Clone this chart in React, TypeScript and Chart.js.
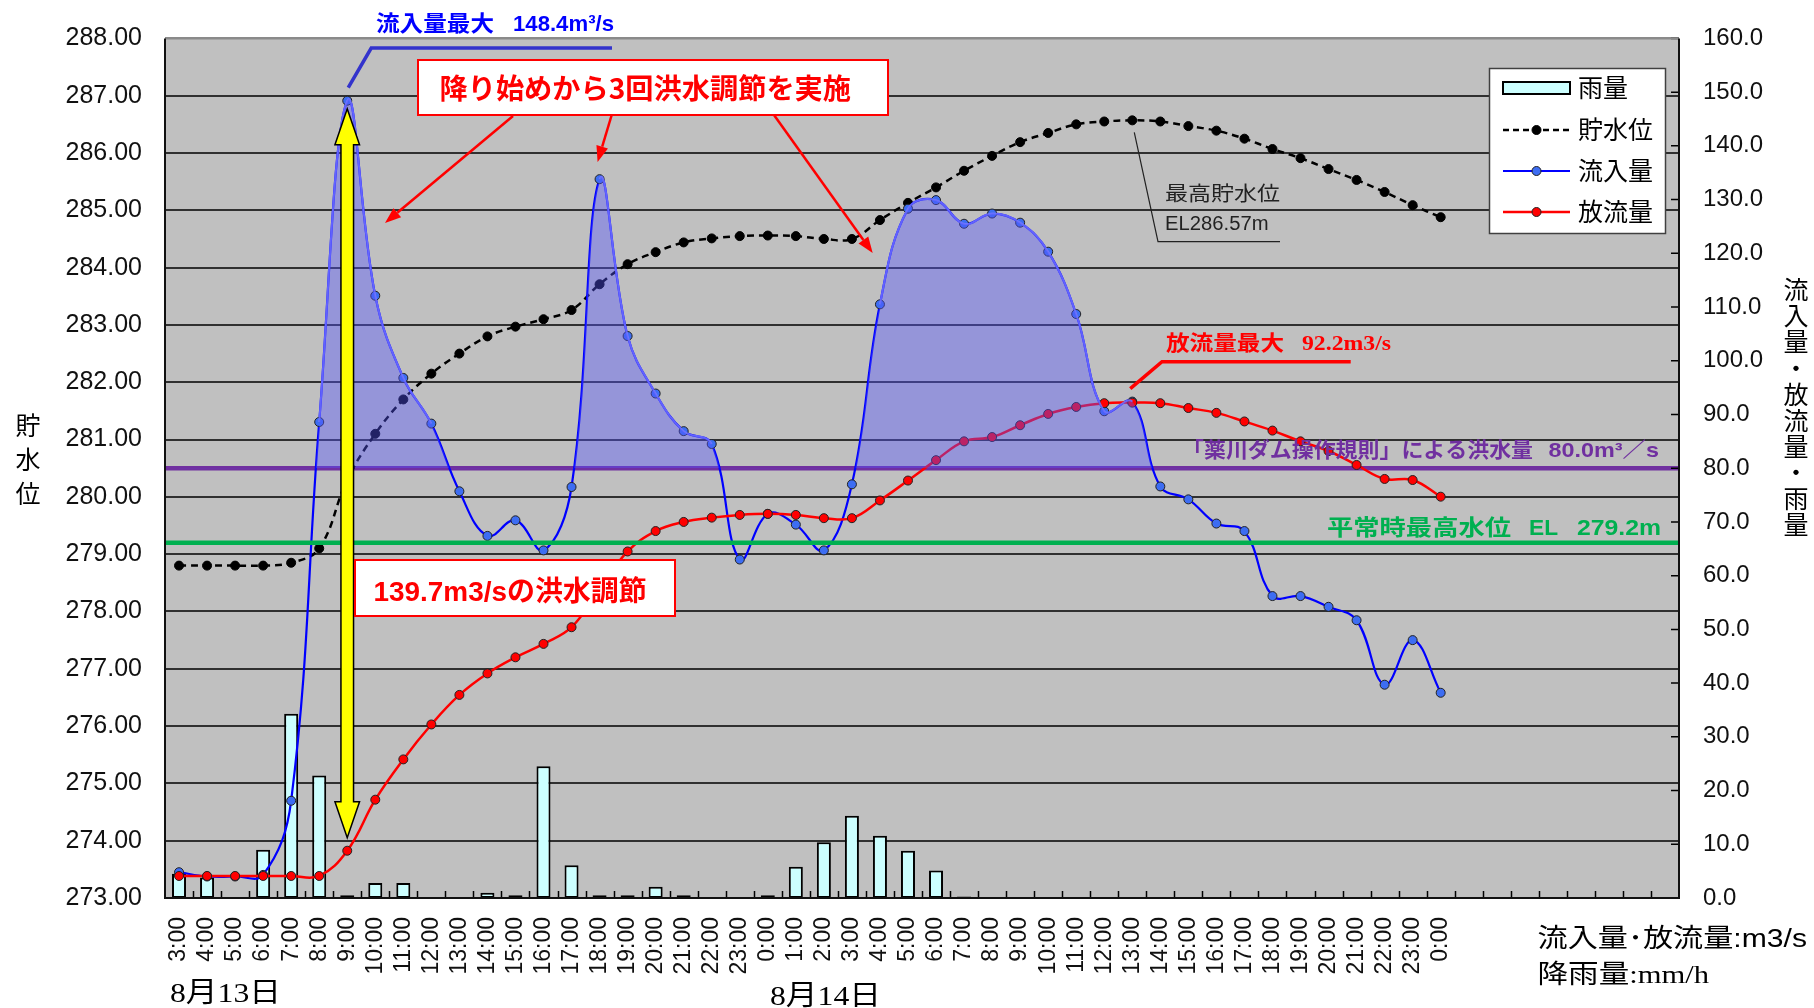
import { useEffect, useRef } from 'react';
import { Chart, registerables } from 'chart.js';

Chart.register(...registerables);

// ---------- data ----------
const categories = [
  '3:00', '4:00', '5:00', '6:00', '7:00', '8:00', '9:00', '10:00', '11:00', '12:00', '13:00', '14:00', '15:00', '16:00', '17:00', '18:00', '19:00', '20:00', '21:00', '22:00', '23:00',
  '0:00', '1:00', '2:00', '3:00', '4:00', '5:00', '6:00', '7:00', '8:00', '9:00', '10:00', '11:00', '12:00', '13:00', '14:00', '15:00', '16:00', '17:00', '18:00', '19:00', '20:00', '21:00', '22:00', '23:00',
  '0:00', '', '', '', '', '', '', '', '',
];

// 雨量 (mm/h)
const rainfall = [
  4.5, 3.8, 0, 9.0, 34.3, 22.8, 0.5, 2.8, 2.8, 0, 0, 1.0, 0.5, 24.5, 6.1, 0.5, 0.5, 2.1, 0.5, 0, 0,
  0.5, 5.8, 10.4, 15.3, 11.6, 8.8, 5.1, 0.3, 0, 0, 0, 0, 0, 0, 0, 0, 0, 0, 0, 0, 0, 0, 0, 0,
  0,
];

// 貯水位 (EL m)
const storageLevel = [
  278.8, 278.8, 278.8, 278.8, 278.85, 279.1, 280.3, 281.1, 281.7, 282.15, 282.5, 282.8, 282.97, 283.1, 283.26, 283.71, 284.06, 284.27, 284.44, 284.51, 284.55,
  284.56, 284.55, 284.5, 284.5, 284.83, 285.13, 285.4, 285.69, 285.95, 286.19, 286.35, 286.5, 286.55, 286.57, 286.55, 286.47, 286.39, 286.25, 286.07, 285.91, 285.72, 285.53, 285.32, 285.09,
  284.88,
];

// 流入量 (m3/s)
const inflow = [
  4.8, 4.0, 4.0, 4.3, 18.1, 88.6, 148.4, 112.1, 96.8, 88.3, 75.7, 67.4, 70.3, 64.7, 76.5, 133.8, 104.6, 93.9, 86.9, 84.5, 63.0,
  71.5, 69.5, 64.7, 77.0, 110.5, 128.3, 129.9, 125.5, 127.4, 125.7, 120.3, 108.7, 90.6, 92.4, 76.6, 74.2, 69.7, 68.3, 56.2, 56.2, 54.2, 51.7, 39.7, 48.0,
  38.2,
];

// 放流量 (m3/s)
const outflow = [
  4.1, 4.1, 4.1, 4.1, 4.1, 4.1, 8.8, 18.3, 25.8, 32.3, 37.8, 41.8, 44.8, 47.3, 50.4, 57.5, 64.5, 68.3, 70.0, 70.8, 71.3,
  71.5, 71.3, 70.7, 70.7, 74.0, 77.7, 81.5, 85.0, 85.8, 88.0, 90.1, 91.4, 92.1, 92.2, 92.1, 91.2, 90.3, 88.7, 87.0, 85.0, 83.2, 80.6, 78.0, 77.8,
  74.7,
];

const floodFlow = 80.0;         // 洪水量
const normalHighWater = 279.2;  // 平常時最高水位
const maxStorage = 286.57;      // 最高貯水位
const maxStorageIndex = 34;
const maxOutflow = 92.2;
const maxOutflowIndex = 34;

const leftTicks = { min: 273, max: 288, step: 1 };
const rightTicks = { min: 0, max: 160, step: 10 };

// ---------- styles ----------
const JP = "'Noto Sans CJK JP', sans-serif";
const SANS_JP = "'Liberation Sans', 'Noto Sans CJK JP', sans-serif";
const SERIF_JP = "'Liberation Serif', 'Noto Sans CJK JP', serif";

const COLORS = {
  plotBg: '#c0c0c0',
  grid: '#303030',
  rainFill: '#ccffff',
  storage: '#000000',
  inflow: '#0000ff',
  inflowPoint: '#3d6df2',
  outflow: '#ff0000',
  purple: '#7030a0',
  green: '#00b050',
  fill: 'rgba(85,85,255,0.40)',
  fillEdge: 'rgba(120,120,255,0.85)',
};

// ---------- helpers ----------
function fitText(ctx: CanvasRenderingContext2D, text: string, x1: number, x2: number, cy: number, size: number, family: string, color: string, weight = 'normal') {
  ctx.save();
  ctx.font = `${weight} ${size}px ${family}`;
  ctx.fillStyle = color;
  ctx.textAlign = 'left';
  ctx.textBaseline = 'alphabetic';
  const w = ctx.measureText(text).width;
  const sx = (x2 - x1) / w;
  ctx.translate(x1, cy + size * 0.37);
  ctx.scale(sx, 1);
  ctx.fillText(text, 0, 0);
  ctx.restore();
}

function centerChar(ctx: CanvasRenderingContext2D, ch: string, cx: number, cy: number, size: number, family: string, color: string) {
  ctx.save();
  ctx.font = `${size}px ${family}`;
  ctx.fillStyle = color;
  ctx.textAlign = 'center';
  ctx.textBaseline = 'alphabetic';
  ctx.fillText(ch, cx, cy + size * 0.37);
  ctx.restore();
}

function arrow(ctx: CanvasRenderingContext2D, x1: number, y1: number, x2: number, y2: number, color: string, lw: number, headLen: number, headW: number) {
  const ang = Math.atan2(y2 - y1, x2 - x1);
  const bx = x2 - headLen * Math.cos(ang);
  const by = y2 - headLen * Math.sin(ang);
  ctx.save();
  ctx.strokeStyle = color;
  ctx.lineWidth = lw;
  ctx.beginPath();
  ctx.moveTo(x1, y1);
  ctx.lineTo(bx, by);
  ctx.stroke();
  ctx.fillStyle = color;
  ctx.beginPath();
  ctx.moveTo(x2, y2);
  ctx.lineTo(bx + headW * Math.sin(ang), by - headW * Math.cos(ang));
  ctx.lineTo(bx - headW * Math.sin(ang), by + headW * Math.cos(ang));
  ctx.closePath();
  ctx.fill();
  ctx.restore();
}

function polyline(ctx: CanvasRenderingContext2D, pts: number[][], color: string, lw: number) {
  ctx.save();
  ctx.strokeStyle = color;
  ctx.lineWidth = lw;
  ctx.lineJoin = 'miter';
  ctx.beginPath();
  pts.forEach((p, i) => (i === 0 ? ctx.moveTo(p[0], p[1]) : ctx.lineTo(p[0], p[1])));
  ctx.stroke();
  ctx.restore();
}

function box(ctx: CanvasRenderingContext2D, x: number, y: number, w: number, h: number, stroke: string, lw: number) {
  ctx.save();
  ctx.fillStyle = '#ffffff';
  ctx.fillRect(x, y, w, h);
  ctx.strokeStyle = stroke;
  ctx.lineWidth = lw;
  ctx.strokeRect(x, y, w, h);
  ctx.restore();
}

// ---------- plugin ----------
const decorPlugin = {
  id: 'decor',
  beforeDraw(chart: any) {
    const { ctx, chartArea: a } = chart;
    ctx.save();
    ctx.fillStyle = '#ffffff';
    ctx.fillRect(0, 0, chart.width, chart.height);
    ctx.fillStyle = COLORS.plotBg;
    ctx.fillRect(a.left, a.top, a.right - a.left, a.bottom - a.top);
    ctx.restore();
  },
  beforeDatasetsDraw(chart: any) {
    const { ctx, chartArea: a } = chart;
    const yR = chart.scales.y1;
    const y = yR.getPixelForValue(floodFlow);
    ctx.save();
    ctx.strokeStyle = COLORS.purple;
    ctx.lineWidth = 4.5;
    ctx.beginPath();
    ctx.moveTo(a.left, y);
    ctx.lineTo(a.right, y);
    ctx.stroke();
    ctx.restore();
  },
  afterDatasetsDraw(chart: any) {
    const { ctx, chartArea: a } = chart;
    const xs = chart.scales.x;
    const yL = chart.scales.y;
    const yR = chart.scales.y1;
    const X = (i: number) => xs.getPixelForValue(i);

    // green normal-high-water line
    const gy = yL.getPixelForValue(normalHighWater);
    ctx.save();
    ctx.strokeStyle = COLORS.green;
    ctx.lineWidth = 4.5;
    ctx.beginPath();
    ctx.moveTo(a.left, gy);
    ctx.lineTo(a.right, gy);
    ctx.stroke();
    ctx.restore();

    // inward tick marks
    ctx.save();
    ctx.strokeStyle = '#000';
    ctx.lineWidth = 1.5;
    ctx.beginPath();
    for (let i = 1; i < categories.length; i++) {
      const bx = Math.round((X(i - 1) + X(i)) / 2) + 0.5;
      ctx.moveTo(bx, a.bottom);
      ctx.lineTo(bx, a.bottom - 7);
    }
    for (let v = rightTicks.min; v <= rightTicks.max; v += rightTicks.step) {
      const ty = yR.getPixelForValue(v);
      ctx.moveTo(a.right, ty);
      ctx.lineTo(a.right - 8, ty);
    }
    ctx.stroke();
    ctx.restore();

    // plot border
    ctx.save();
    ctx.lineWidth = 2;
    ctx.strokeStyle = '#8a8a8a';
    ctx.beginPath();
    ctx.moveTo(a.left, a.top);
    ctx.lineTo(a.right, a.top);
    ctx.stroke();
    ctx.strokeStyle = '#111';
    ctx.beginPath();
    ctx.moveTo(a.left, a.top);
    ctx.lineTo(a.left, a.bottom);
    ctx.lineTo(a.right, a.bottom);
    ctx.lineTo(a.right, a.top);
    ctx.stroke();
    ctx.restore();

    // ---- 流入量最大 annotation ----
    const peakIdx = inflow.indexOf(Math.max(...inflow));
    const pcx = X(peakIdx);
    const peakY = yR.getPixelForValue(inflow[peakIdx]);
    polyline(ctx, [[pcx + 1, peakY - 13], [pcx + 24, 48], [612, 48]], '#3333cc', 3.5);
    fitText(ctx, '流入量最大', 376, 494, 23, 22, JP, '#0000ff', 'bold');
    fitText(ctx, '148.4m³/s', 513, 614, 23, 22, SANS_JP, '#0000ff', 'bold');

    // ---- yellow double arrow (flood control amount) ----
    const top = peakY + 8;
    const bot = yR.getPixelForValue(outflow[peakIdx]) - 13;
    const hw = 12.3, sw = 6.3, hl = 36;
    ctx.save();
    ctx.fillStyle = '#ffff00';
    ctx.strokeStyle = '#000';
    ctx.lineWidth = 1.5;
    ctx.beginPath();
    ctx.moveTo(pcx, top);
    ctx.lineTo(pcx + hw, top + hl);
    ctx.lineTo(pcx + sw, top + hl);
    ctx.lineTo(pcx + sw, bot - hl);
    ctx.lineTo(pcx + hw, bot - hl);
    ctx.lineTo(pcx, bot);
    ctx.lineTo(pcx - hw, bot - hl);
    ctx.lineTo(pcx - sw, bot - hl);
    ctx.lineTo(pcx - sw, top + hl);
    ctx.lineTo(pcx - hw, top + hl);
    ctx.closePath();
    ctx.fill();
    ctx.stroke();
    ctx.restore();

    // ---- red callout: 降り始めから3回洪水調節を実施 ----
    arrow(ctx, 513, 116, 385, 223, '#ff0000', 2.5, 16, 6);
    arrow(ctx, 612.6, 112, 597.6, 162, '#ff0000', 2.5, 16, 6);
    arrow(ctx, 774, 115, 872.7, 253, '#ff0000', 2.5, 16, 6);
    box(ctx, 418, 60, 470, 55, '#ff0000', 2);
    fitText(ctx, '降り始めから3回洪水調節を実施', 439.5, 851, 89, 28, JP, '#ff0000', 'bold');

    // ---- red box: 139.7m3/sの洪水調節 ----
    box(ctx, 355, 560, 320, 56, '#ff0000', 2);
    fitText(ctx, '139.7m3/sの洪水調節', 373.5, 646.6, 590.5, 28, SANS_JP, '#ff0000', 'bold');

    // ---- 放流量最大 ----
    const oy = yR.getPixelForValue(maxOutflow);
    polyline(ctx, [[X(maxOutflowIndex) - 2, oy - 14], [1162, 361.7], [1350.7, 361.7]], '#ff0000', 3.5);
    fitText(ctx, '放流量最大', 1166, 1284, 342.5, 21, JP, '#ff0000', 'bold');
    fitText(ctx, '92.2m3/s', 1302, 1391, 342.5, 21, SERIF_JP, '#ff0000', 'bold');

    // ---- purple rule text ----
    fitText(ctx, '「薬川ダム操作規則」による洪水量', 1182, 1533, 449, 21, JP, COLORS.purple, 'bold');
    fitText(ctx, '80.0m³／s', 1548.5, 1659, 449, 21, SANS_JP, COLORS.purple, 'bold');

    // ---- green text ----
    fitText(ctx, '平常時最高水位', 1327, 1511, 527, 22, JP, COLORS.green, 'bold');
    fitText(ctx, 'EL', 1529, 1558, 527, 22, SANS_JP, COLORS.green, 'bold');
    fitText(ctx, '279.2m', 1577, 1661, 527, 22, SANS_JP, COLORS.green, 'bold');

    // ---- 最高貯水位 ----
    const sy = yL.getPixelForValue(maxStorage);
    polyline(ctx, [[X(maxStorageIndex) + 2, sy + 12], [1158, 241.7], [1280, 241.7]], '#222', 1.2);
    fitText(ctx, '最高貯水位', 1165, 1280, 194, 20, JP, '#222');
    fitText(ctx, 'EL286.57m', 1165, 1268.5, 222.5, 20, SANS_JP, '#222');
  },
  afterDraw(chart: any) {
    const { ctx } = chart;
    // ---- legend ----
    const lx = 1489.5, ly = 68.5, lw = 176, lh = 165;
    ctx.save();
    ctx.fillStyle = '#fff';
    ctx.fillRect(lx, ly, lw, lh);
    ctx.strokeStyle = '#404040';
    ctx.lineWidth = 1.5;
    ctx.strokeRect(lx, ly, lw, lh);
    ctx.restore();
    const sx1 = 1503, sx2 = 1570, scx = (sx1 + sx2) / 2, tx = 1578;
    const rows = [88, 130, 171, 212];
    const ds = chart.data.datasets;
    // 雨量
    ctx.save();
    ctx.fillStyle = COLORS.rainFill;
    ctx.fillRect(sx1, rows[0] - 6, sx2 - sx1, 12);
    ctx.strokeStyle = '#000';
    ctx.lineWidth = 2;
    ctx.strokeRect(sx1, rows[0] - 6, sx2 - sx1, 12);
    ctx.restore();
    const lineItem = (row: number, d: any, dash: number[]) => {
      ctx.save();
      ctx.strokeStyle = d.borderColor;
      ctx.lineWidth = d.borderWidth;
      ctx.setLineDash(dash);
      ctx.beginPath();
      ctx.moveTo(sx1, row);
      ctx.lineTo(sx2, row);
      ctx.stroke();
      ctx.setLineDash([]);
      ctx.fillStyle = d.pointBackgroundColor;
      ctx.strokeStyle = d.pointBorderColor;
      ctx.lineWidth = 1;
      ctx.beginPath();
      ctx.arc(scx, row, 4.5, 0, Math.PI * 2);
      ctx.fill();
      ctx.stroke();
      ctx.restore();
    };
    lineItem(rows[1], ds[4], [6, 4]);
    lineItem(rows[2], ds[3], []);
    lineItem(rows[3], ds[2], []);
    const labels = ['雨量', '貯水位', '流入量', '放流量'];
    labels.forEach((t, i) => {
      ctx.save();
      ctx.font = `25px ${JP}`;
      ctx.fillStyle = '#000';
      ctx.textBaseline = 'alphabetic';
      ctx.fillText(t, tx, rows[i] + 25 * 0.37);
      ctx.restore();
    });

    // ---- axis titles ----
    ['貯', '水', '位'].forEach((c, i) => centerChar(ctx, c, 28, 426 + i * 34, 25, JP, '#000'));
    Array.from('流入量・放流量・雨量').forEach((c, i) => centerChar(ctx, c, 1796, 290 + i * 26.1, 25, JP, '#000'));

    // ---- units ----
    fitText(ctx, '流入量･放流量:m3/s', 1537.5, 1807, 937, 26, SANS_JP, '#000');
    fitText(ctx, '降雨量:mm/h', 1537.5, 1709, 973, 26, SERIF_JP, '#000');

    // ---- dates ----
    fitText(ctx, '8月13日', 170, 281, 992, 28, SERIF_JP, '#000');
    fitText(ctx, '8月14日', 770, 881, 995, 28, SERIF_JP, '#000');
  },
};

export default function App() {
  const ref = useRef<HTMLCanvasElement | null>(null);

  useEffect(() => {
    if (!ref.current) return;
    const chart = new Chart(ref.current, {
      type: 'bar',
      data: {
        labels: categories,
        datasets: [
          {
            // shaded flood-control volume (inflow above 80 m3/s)
            type: 'line',
            label: 'fill',
            data: inflow,
            yAxisID: 'y1',
            borderColor: 'transparent',
            borderWidth: 0,
            pointRadius: 0,
            tension: 0.4,
            fill: { target: { value: floodFlow }, above: COLORS.fill, below: 'transparent' },
            order: 0,
          } as any,
          {
            // light edge of the shaded area
            type: 'line',
            label: 'edge',
            data: inflow,
            yAxisID: 'y1',
            borderColor: 'transparent',
            borderWidth: 2,
            segment: {
              borderColor: (c: any) => (c.p0.parsed.y >= floodFlow && c.p1.parsed.y >= floodFlow ? COLORS.fillEdge : 'transparent'),
            },
            pointRadius: 0,
            tension: 0.4,
            fill: false,
            order: 0,
          } as any,
          {
            type: 'line',
            label: '放流量',
            data: outflow,
            yAxisID: 'y1',
            borderColor: COLORS.outflow,
            borderWidth: 2.5,
            pointBackgroundColor: COLORS.outflow,
            pointBorderColor: '#222',
            pointBorderWidth: 1,
            pointRadius: 4.5,
            tension: 0.4,
            fill: false,
            order: 1,
          },
          {
            type: 'line',
            label: '流入量',
            data: inflow,
            yAxisID: 'y1',
            borderColor: COLORS.inflow,
            borderWidth: 2.2,
            pointBackgroundColor: COLORS.inflowPoint,
            pointBorderColor: '#222',
            pointBorderWidth: 1,
            pointRadius: 4.5,
            tension: 0.4,
            fill: false,
            order: 2,
          },
          {
            type: 'line',
            label: '貯水位',
            data: storageLevel,
            yAxisID: 'y',
            borderColor: COLORS.storage,
            borderWidth: 2.5,
            borderDash: [7, 5],
            pointBackgroundColor: COLORS.storage,
            pointBorderColor: COLORS.storage,
            pointBorderWidth: 1,
            pointRadius: 4.5,
            tension: 0.4,
            fill: false,
            order: 3,
          },
          {
            type: 'bar',
            label: '雨量',
            data: rainfall,
            yAxisID: 'y1',
            backgroundColor: COLORS.rainFill,
            borderColor: '#000',
            borderWidth: 2,
            borderSkipped: false,
            barPercentage: 0.5,
            categoryPercentage: 1.0,
            order: 4,
          },
        ] as any,
      },
      options: {
        responsive: false,
        devicePixelRatio: 1,
        animation: false,
        events: [],
        layout: { padding: { top: 36, left: 0, right: 0, bottom: 0 } },
        font: { family: SANS_JP },
        plugins: {
          legend: { display: false },
          tooltip: { enabled: false },
          title: { display: false },
        },
        scales: {
          x: {
            type: 'category',
            offset: true,
            grid: { display: false, drawTicks: false },
            border: { display: false },
            ticks: {
              autoSkip: false,
              maxRotation: 90,
              minRotation: 90,
              padding: 19,
              color: '#111',
              font: { family: "'Liberation Sans', sans-serif", size: 23 },
            },
            afterFit: (s: any) => { s.height = 110; },
          },
          y: {
            type: 'linear',
            position: 'left',
            min: leftTicks.min,
            max: leftTicks.max,
            ticks: {
              stepSize: leftTicks.step,
              padding: 23,
              color: '#111',
              font: { family: "'Liberation Sans', sans-serif", size: 25 },
              callback: (v: any) => Number(v).toFixed(2),
            },
            grid: {
              drawTicks: false,
              lineWidth: 2,
              color: (c: any) => (c.tick && c.tick.value === leftTicks.max ? '#8a8a8a' : COLORS.grid),
            },
            border: { display: false },
            afterFit: (s: any) => { s.width = 165; },
          },
          y1: {
            type: 'linear',
            position: 'right',
            min: rightTicks.min,
            max: rightTicks.max,
            ticks: {
              stepSize: rightTicks.step,
              padding: 24,
              color: '#111',
              font: { family: "'Liberation Sans', sans-serif", size: 24 },
              callback: (v: any) => Number(v).toFixed(1),
            },
            grid: { display: false, drawTicks: false },
            border: { display: false },
            afterFit: (s: any) => { s.width = 135; },
          },
        },
      } as any,
      plugins: [decorPlugin as any],
    });
    return () => chart.destroy();
  }, []);

  return (
    <div style={{ position: 'absolute', left: 0, top: 0, width: 1814, height: 1008, background: '#fff' }}>
      <canvas ref={ref} width={1814} height={1008} style={{ display: 'block', width: 1814, height: 1008 }} />
    </div>
  );
}
